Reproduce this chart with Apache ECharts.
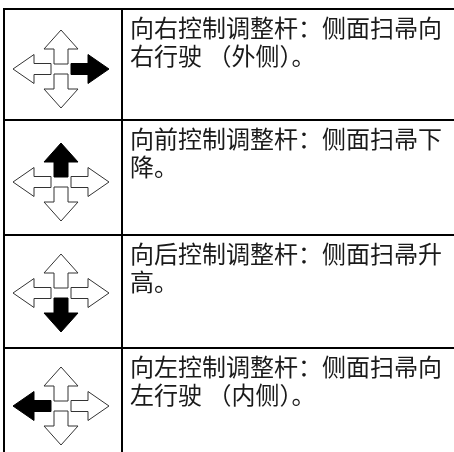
<!DOCTYPE html>
<html><head><meta charset="utf-8">
<script src="https://cdn.jsdelivr.net/npm/echarts@6/dist/echarts.min.js"></script>
<style>html,body{margin:0;padding:0;background:#fff}#c{width:454px;height:452px}</style>
</head><body><div id="c"></div>
<script>
// Table content
const activeArrow = ['right', 'up', 'down', 'left'];
const textLine1 = ['向右控制调整杆：侧面扫帚向', '向前控制调整杆：侧面扫帚下', '向后控制调整杆：侧面扫帚升', '向左控制调整杆：侧面扫帚向'];
const textLine2 = ['右行驶 （外侧）。', '降。', '高。', '左行驶 （内侧）。'];

// Layout
const rowLines = [9, 120, 235, 348, 470];
const arrowCY = [69, 182, 293, 406];
const arrowCX = 61;
const colX = 122, leftX = 4;
const font = '"Noto Sans CJK SC", "Noto Sans CJK JP", sans-serif';

function arrowPts(dir, cx, cy) {
  const sw = 7, hw = 17, hb = 20, tip = 39, se = 5;
  const hsw = 5.5, hhw = 14.5, hhb = 27, htip = 48, hse = 10;
  let p;
  if (dir === 'up') p = [[-sw,-se],[-sw,-hb],[-hw,-hb],[0,-tip],[hw,-hb],[sw,-hb],[sw,-se]];
  if (dir === 'down') p = [[-sw,se],[-sw,hb],[-hw,hb],[0,tip],[hw,hb],[sw,hb],[sw,se]];
  if (dir === 'left') p = [[-hse,-hsw],[-hhb,-hsw],[-hhb,-hhw],[-htip,0],[-hhb,hhw],[-hhb,hsw],[-hse,hsw]];
  if (dir === 'right') p = [[hse,-hsw],[hhb,-hsw],[hhb,-hhw],[htip,0],[hhb,hhw],[hhb,hsw],[hse,hsw]];
  return p.map(q => [cx + q[0], cy + q[1]]);
}

const g = [];
// grid lines
g.push({type:'line', shape:{x1:leftX, y1:rowLines[0], x2:460, y2:rowLines[0]}, style:{stroke:'#000', lineWidth:2}});
for (let i = 1; i < rowLines.length - 1; i++) {
  g.push({type:'line', shape:{x1:leftX, y1:rowLines[i], x2:460, y2:rowLines[i]}, style:{stroke:'#000', lineWidth:2}});
}
g.push({type:'line', shape:{x1:leftX, y1:rowLines[0]-1, x2:leftX, y2:460}, style:{stroke:'#000', lineWidth:2}});
g.push({type:'line', shape:{x1:colX, y1:rowLines[0]-1, x2:colX, y2:460}, style:{stroke:'#000', lineWidth:2}});

activeArrow.forEach((act, r) => {
  ['up','down','left','right'].forEach(d => {
    const on = d === act;
    g.push({type:'polygon', shape:{points: arrowPts(d, arrowCX, arrowCY[r])},
      style:{fill: on ? '#000' : '#fff', stroke: on ? '#000' : '#333', lineWidth: 1}, z: on ? 2 : 1});
  });
  const top = rowLines[r];
  g.push({type:'text', x:130, y: top + 7, style:{text: textLine1[r], font: '24px ' + font, fill:'#1a1a1a', textVerticalAlign:'top'}});
  g.push({type:'text', x:130, y: top + 35, style:{text: textLine2[r], font: '24px ' + font, fill:'#1a1a1a', textVerticalAlign:'top'}});
});

const chart = echarts.init(document.getElementById('c'), null, {renderer:'canvas'});
chart.setOption({animation:false, graphic: g});
</script></body></html>
